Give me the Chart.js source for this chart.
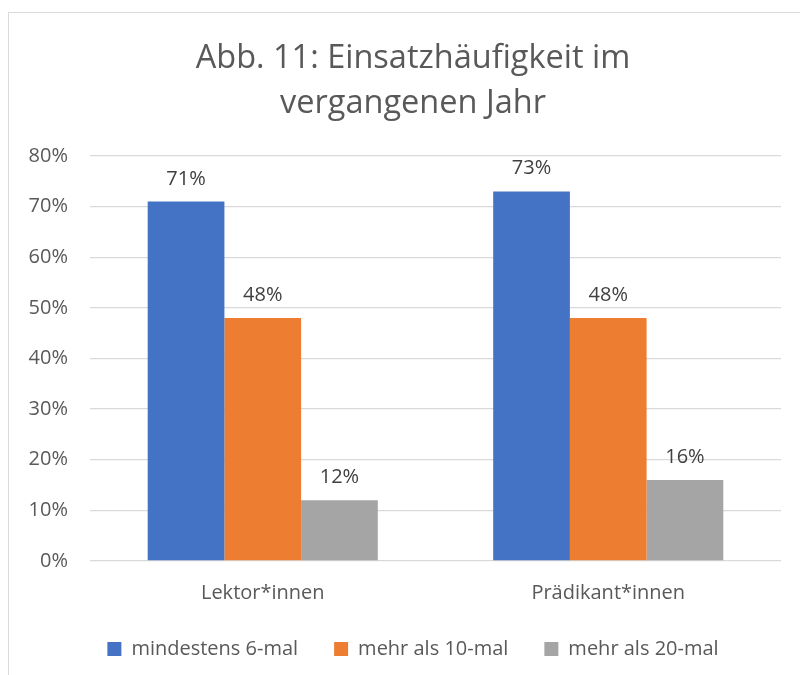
<!DOCTYPE html>
<html>
<head>
<meta charset="utf-8">
<script src="https://cdn.jsdelivr.net/npm/chart.js@4.4.1/dist/chart.umd.min.js"></script>
<style>
  html, body { margin: 0; padding: 0; background: #fff; overflow: hidden; }
  #wrap { position: relative; width: 800px; height: 675px; }
  #frame {
    position: absolute; left: 8px; top: 12px;
    width: 900px; height: 800px;
    border: 1px solid #d9d9d9;
  }
  canvas { position: absolute; left: 0; top: 0; }
</style>
</head>
<body>
<div id="wrap">
  <div id="frame"></div>
  <canvas id="einsatzChart" width="800" height="675"></canvas>
</div>
<script>
// Chart data (percent)
const categories = ['Lektor*innen', 'Prädikant*innen'];
const seriesNames = ['mindestens 6-mal', 'mehr als 10-mal', 'mehr als 20-mal'];
const mind6 = [71, 73];
const mehr10 = [48, 48];
const mehr20 = [12, 16];
const yTicks = [0, 10, 20, 30, 40, 50, 60, 70, 80];

// Office default palette
const COLORS = {
  blue: '#4472C4',
  orange: '#ED7D31',
  gray: '#A5A5A5',
  grid: '#d9d9d9',
  text: '#595959',
  label: '#404040',
};

const FONT = "'Open Sans', 'DejaVu Sans', sans-serif";

// Draws the value above each bar ("outside end" labels)
const valueLabels = {
  id: 'valueLabels',
  afterDatasetsDraw(chart) {
    const ctx = chart.ctx;
    ctx.save();
    ctx.font = `20px ${FONT}`;
    ctx.fillStyle = COLORS.label;
    ctx.textAlign = 'center';
    ctx.textBaseline = 'alphabetic';
    chart.data.datasets.forEach((ds, i) => {
      chart.getDatasetMeta(i).data.forEach((bar, j) => {
        ctx.fillText(ds.data[j] + '%', bar.x, bar.y - 17);
      });
    });
    ctx.restore();
  }
};

// y axis box is kept narrow so title/legend centre on the frame;
// widen the label clip area so the tick labels are not cut off
const unclipY = {
  id: 'unclipY',
  afterLayout(chart) {
    chart.scales.y.left = 0;
  }
};

new Chart(document.getElementById('einsatzChart').getContext('2d'), {
  type: 'bar',
  data: {
    labels: categories,
    datasets: [
      { label: seriesNames[0], data: mind6, backgroundColor: COLORS.blue },
      { label: seriesNames[1], data: mehr10, backgroundColor: COLORS.orange },
      { label: seriesNames[2], data: mehr20, backgroundColor: COLORS.gray },
    ]
  },
  options: {
    responsive: false,
    animation: false,
    categoryPercentage: 0.666,
    barPercentage: 1.0,
    layout: { padding: { left: 45, right: 19, top: 0, bottom: 6 } },
    plugins: {
      title: {
        display: true,
        text: ['Abb. 11: Einsatzhäufigkeit im', 'vergangenen Jahr'],
        color: COLORS.text,
        font: { family: FONT, size: 32.5, weight: 'normal', lineHeight: 1.385 },
        padding: { top: 36, bottom: 30 }
      },
      legend: {
        position: 'bottom',
        labels: {
          color: COLORS.text,
          font: { family: FONT, size: 20, lineHeight: 0.8 },
          boxWidth: 14,
          boxHeight: 14,
          padding: 36
        }
      },
      tooltip: { enabled: false }
    },
    scales: {
      x: {
        afterFit: (scale) => { scale.height = 42; },
        grid: { display: false, drawTicks: false },
        border: { display: false },
        ticks: { color: COLORS.text, font: { family: FONT, size: 20, lineHeight: 1.0 }, padding: 22 }
      },
      y: {
        min: 0,
        max: 80,
        afterFit: (scale) => { scale.width = 45; },
        afterBuildTicks: (scale) => { scale.ticks = yTicks.map(v => ({ value: v })); },
        grid: { color: COLORS.grid, lineWidth: 1.3, drawTicks: false },
        border: { display: false },
        ticks: {
          color: COLORS.text,
          font: { family: FONT, size: 20 },
          padding: 22,
          callback: v => v + '%'
        }
      }
    }
  },
  plugins: [valueLabels, unclipY]
});
</script>
</body>
</html>
